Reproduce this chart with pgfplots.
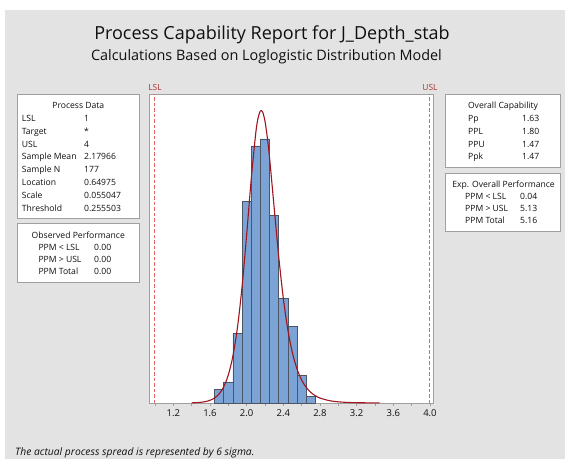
\documentclass[border=0pt]{standalone}
\usepackage{fontspec}
\setmainfont{Open Sans}
\usepackage{pgfplots}
\pgfplotsset{compat=1.18}

\definecolor{bggray}{RGB}{227,227,227}
\definecolor{framegray}{RGB}{160,160,160}
\definecolor{barfill}{RGB}{123,163,214}
\definecolor{baredge}{RGB}{75,85,100}
\definecolor{fitred}{RGB}{160,20,30}
\definecolor{speclines}{RGB}{228,100,100}
\definecolor{speclabel}{RGB}{170,50,50}
\definecolor{txt}{RGB}{15,15,15}

\tikzset{
  boxtxt/.style={font=\fontsize{8.6}{9}\selectfont, text=txt, inner sep=0pt,
                 text height=6.2pt, text depth=0pt, anchor=west},
  boxhead/.style={boxtxt, anchor=center},
  infobox/.style={draw=framegray, fill=white, line width=0.6pt}
}

\begin{document}
\begin{tikzpicture}[x=1pt,y=1pt]
\useasboundingbox (0,0) rectangle (565,459);
\fill[white] (0,0) rectangle (565,459);
\fill[bggray] (5,0) rectangle (565,449);

% titles
\node[font=\fontsize{18}{20}\selectfont, text=txt, anchor=base, inner sep=0pt]
  at (272,419) {Process Capability Report for J\_Depth\_stab};
\node[font=\fontsize{14.4}{16}\selectfont, text=txt, anchor=base, inner sep=0pt]
  at (266.5,399) {Calculations Based on Loglogistic Distribution Model};

\begin{axis}[
  at={(149pt,56pt)}, anchor=south west,
  scale only axis, width=284pt, height=309pt,
  xmin=0.935, xmax=4.033, ymin=0, ymax=44.46,
  clip=false,
  axis background/.style={fill=white},
  axis line style={framegray, line width=0.6pt},
  ytick=\empty,
  xtick={1.2,1.6,2.0,2.4,2.8,3.2,3.6,4.0},
  minor xtick={1.0,1.4,1.8,2.2,2.6,3.0,3.4,3.8},
  xtick pos=bottom, tick align=outside,
  major tick length=3pt, minor tick length=3pt,
  every tick/.style={framegray, line width=0.6pt},
  every minor tick/.style={framegray, line width=0.6pt},
  /pgf/number format/fixed,
  /pgf/number format/fixed zerofill,
  /pgf/number format/precision=1,
  /pgf/number format/assume math mode=true,
  xticklabel style={font=\fontsize{9.5}{10}\selectfont, text=txt},
]
% histogram of the 177 observations, bins of width 0.1
\addplot[ybar, bar width=0.1, bar shift=0pt, fill=barfill, draw=baredge, line width=0.6pt]
  coordinates {(1.7,2) (1.8,3) (1.9,10) (2.0,29) (2.1,37) (2.2,38)
               (2.3,27) (2.4,15) (2.5,11) (2.6,4) (2.7,1)};
% fitted loglogistic density, scaled to counts
\addplot[fitred, line width=1.1pt, smooth] coordinates {
  (1.40,0.024) (1.45,0.051) (1.50,0.103) (1.55,0.202) (1.60,0.386)
  (1.65,0.720) (1.70,1.311) (1.75,2.328) (1.80,4.023) (1.85,6.741)
  (1.90,10.879) (1.95,16.730) (2.00,24.163) (2.05,32.196) (2.10,38.882)
  (2.125,41.006) (2.15,42.026) (2.175,41.860) (2.20,40.557) (2.225,38.280)
  (2.25,35.274) (2.30,28.157) (2.35,21.072) (2.40,15.085) (2.45,10.498)
  (2.50,7.187) (2.55,4.880) (2.60,3.306) (2.65,2.241) (2.70,1.524)
  (2.75,1.042) (2.80,0.716) (2.90,0.344) (3.00,0.169) (3.10,0.085)
  (3.20,0.044) (3.45,0.009)};
% specification limits
\addplot[speclines, dash pattern=on 3.5pt off 2pt, line width=1pt]
  coordinates {(1,0) (1,44.46)};
\addplot[speclines, dash pattern=on 3.5pt off 2pt, line width=1pt]
  coordinates {(4,0) (4,44.46)};
\node[font=\fontsize{8.4}{9}\selectfont, text=speclabel, anchor=base, inner sep=0pt, yshift=4pt]
  at (axis cs:1,44.46) {LSL};
\node[font=\fontsize{8.4}{9}\selectfont, text=speclabel, anchor=base, inner sep=0pt, yshift=4pt]
  at (axis cs:4,44.46) {USL};
\end{axis}

% Process Data
\draw[infobox] (17.3,241) rectangle (139.3,365);
\node[boxhead] at (78.3,353.5) {Process Data};
\foreach \lab/\val [count=\i from 0] in {LSL/1, Target/*, USL/4, Sample Mean/2.17966,
    Sample N/177, Location/0.64975, Scale/0.055047, Threshold/0.255503} {
  \node[boxtxt] at (21.7,340.7-12.8*\i) {\lab};
  \node[boxtxt] at (84,340.7-12.8*\i) {\val};
}

% Observed Performance
\draw[infobox] (17.3,176.5) rectangle (139.3,236);
\node[boxhead] at (78.3,224) {Observed Performance};
\foreach \lab/\val [count=\i from 0] in {PPM < LSL/0.00, PPM > USL/0.00, PPM Total/0.00} {
  \node[boxtxt] at (38.3,212-12.3*\i) {\lab};
  \node[boxtxt] at (94,212-12.3*\i) {\val};
}

% Overall Capability
\draw[infobox] (445,292) rectangle (560.7,365);
\node[boxhead] at (503,353.5) {Overall Capability};
\foreach \lab/\val [count=\i from 0] in {Pp/1.63, PPL/1.80, PPU/1.47, Ppk/1.47} {
  \node[boxtxt] at (468,340.7-12.8*\i) {\lab};
  \node[boxtxt] at (522,340.7-12.8*\i) {\val};
}

% Expected Overall Performance
\draw[infobox] (445,227.3) rectangle (560.7,286);
\node[boxhead] at (503.5,275) {Exp. Overall Performance};
\foreach \lab/\val [count=\i from 0] in {PPM < LSL/0.04, PPM > USL/5.13, PPM Total/5.16} {
  \node[boxtxt] at (465,262.7-12*\i) {\lab};
  \node[boxtxt] at (520,262.7-12*\i) {\val};
}

\node[font=\itshape\fontsize{10.3}{12}\selectfont, text=txt, anchor=base west, inner sep=0pt]
  at (15,3.5) {The actual process spread is represented by 6 sigma.};
\end{tikzpicture}
\end{document}
